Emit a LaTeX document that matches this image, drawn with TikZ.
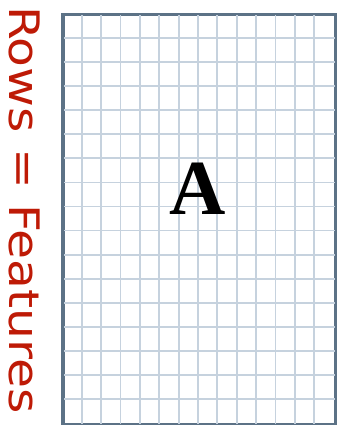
\documentclass[tikz,border=0pt]{standalone}
\usepackage{fontspec}
\usepackage{xcolor}
\usepackage{tikz}
\usetikzlibrary{positioning, calc}
\newfontfamily\labelfont{DejaVu Sans}
\newfontfamily\matfont{Liberation Serif}
\definecolor{gridline}{RGB}{198,210,222}
\definecolor{gridframe}{RGB}{92,114,134}
\definecolor{rowred}{RGB}{190,26,6}

\begin{document}
\begin{tikzpicture}[x=1pt, y=-1pt]
            \useasboundingbox (0,0) rectangle (337,425);
            % Matrix body
            \node[draw=gridframe, line width=2.4pt, minimum width=271pt, minimum height=409pt, inner sep=0pt, anchor=north west] (matA) at (62.5,14) {};
            % Grid lines
            \foreach \i in {1,...,13}
                \draw[gridline, line width=1.8pt] ($(matA.north west)+(\i*19.357,1.2)$) -- ($(matA.south west)+(\i*19.357,-1.2)$);
            \foreach \j in {1,...,16}
                \draw[gridline, line width=1.8pt] ($(matA.north west)+(1.2,\j*24.06)$) -- ($(matA.north east)+(-1.2,\j*24.06)$);
            \draw[gridframe, line width=2.4pt] (matA.north west) rectangle (matA.south east);
            % Matrix name
            \node[font=\matfont\bfseries\fontsize{78}{78}\selectfont, inner sep=0pt] (name) at (197.5,189) {A};
            % Side label
            \node[font=\labelfont\fontsize{42}{42}\selectfont, text=rowred, rotate=-90, xscale=1.16, inner sep=0pt] (rows) at (25,210) {Rows = Features};
        \end{tikzpicture}
\end{document}
